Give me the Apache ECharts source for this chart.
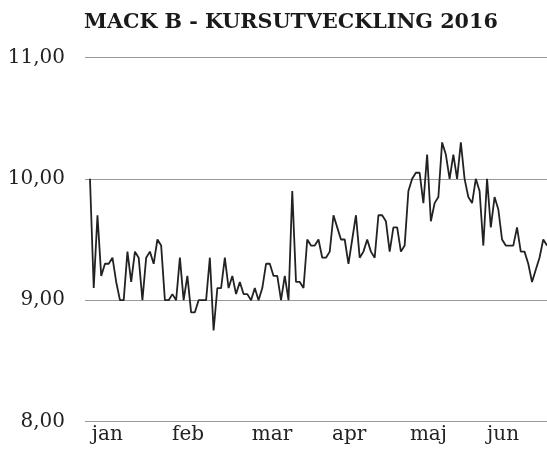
<!DOCTYPE html>
<html>
<head>
<meta charset="utf-8">
<script src="https://cdn.jsdelivr.net/npm/echarts@6/dist/echarts.min.js"></script>
<style>
  html, body { margin: 0; padding: 0; background: #fff; }
  #chart { width: 547px; height: 452px; }
</style>
</head>
<body>
<div id="chart"></div>
<script>
// kursdata, en punkt per handelsdag (jan - jun 2016)
const prices = [
  10.00, 9.10, 9.70, 9.20, 9.30, 9.30, 9.35, 9.15, 9.00, 9.00,
  9.40, 9.15, 9.40, 9.35, 9.00, 9.35, 9.40, 9.30, 9.50, 9.45,
  9.00, 9.00, 9.05, 9.00, 9.35, 9.00, 9.20, 8.90, 8.90, 9.00,
  9.00, 9.00, 9.35, 8.75, 9.10, 9.10, 9.35, 9.10, 9.20, 9.05,
  9.15, 9.05, 9.05, 9.00, 9.10, 9.00, 9.10, 9.30, 9.30, 9.20,
  9.20, 9.00, 9.20, 9.00, 9.90, 9.15, 9.15, 9.10, 9.50, 9.45,
  9.45, 9.50, 9.35, 9.35, 9.40, 9.70, 9.60, 9.50, 9.50, 9.30,
  9.50, 9.70, 9.35, 9.40, 9.50, 9.40, 9.35, 9.70, 9.70, 9.65,
  9.40, 9.60, 9.60, 9.40, 9.45, 9.90, 10.00, 10.05, 10.05, 9.80,
  10.20, 9.65, 9.80, 9.85, 10.30, 10.20, 10.00, 10.20, 10.00, 10.30,
  10.00, 9.85, 9.80, 10.00, 9.90, 9.45, 10.00, 9.60, 9.85, 9.75,
  9.50, 9.45, 9.45, 9.45, 9.60, 9.40, 9.40, 9.30, 9.15, 9.25,
  9.35, 9.50, 9.45
];
// manadsetiketter och var de sitter (i handelsdagar)
const months = ['jan', 'feb', 'mar', 'apr', 'maj', 'jun'];
const monthPos = [0.5, 21.9, 43.2, 64.6, 85.4, 106];
const yTicks = [8, 9, 10, 11];

const serif = '"DejaVu Serif", "Liberation Serif", serif';

let myChart = echarts.init(document.getElementById('chart'), null, {renderer: 'canvas'});
myChart.setOption({
  animation: false,
  title: {
    text: 'MACK B - KURSUTVECKLING 2016',
    left: 79,
    top: 7,
    textStyle: { fontFamily: serif, fontWeight: 'bold', fontSize: 20.7, color: '#1a1a1a' }
  },
  grid: { left: 85, right: 0, top: 57.5, bottom: 30.5 },
  xAxis: {
    type: 'value',
    min: -1.33,
    max: prices.length - 1,
    axisLine: { show: false },
    axisTick: { show: false },
    splitLine: { show: false },
    axisLabel: {
      customValues: monthPos,
      margin: 3,
      align: 'left',
      fontFamily: serif,
      fontSize: 20,
      color: '#222',
      formatter: function (v) {
        const i = monthPos.indexOf(v);
        return i >= 0 ? months[i] : '';
      }
    }
  },
  yAxis: {
    type: 'value',
    min: yTicks[0],
    max: yTicks[yTicks.length - 1],
    interval: 1,
    axisLine: { show: false },
    axisTick: { show: false },
    splitLine: { lineStyle: { color: '#999', width: 1 } },
    axisLabel: {
      margin: 20,
      fontFamily: serif,
      fontSize: 20,
      color: '#222',
      formatter: function (v) { return v.toFixed(2).replace('.', ','); }
    }
  },
  series: [{
    type: 'line',
    data: prices.map(function (p, i) { return [i, p]; }),
    symbol: 'none',
    lineStyle: { color: '#222', width: 1.8 }
  }]
});
</script>
</body>
</html>
